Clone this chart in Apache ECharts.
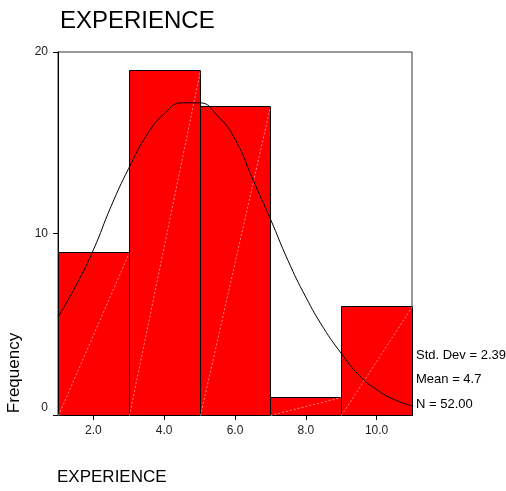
<!DOCTYPE html>
<html>
<head>
<meta charset="utf-8">
<script src="https://cdn.jsdelivr.net/npm/echarts@6/dist/echarts.min.js"></script>
<style>html,body{margin:0;padding:0;background:#fff;}#c{width:506px;height:491px;}</style>
</head>
<body>
<div id="c"></div>
<script>
// Histogram bins and counts
const binStarts = [1, 3, 5, 7, 9];
const binEnds = [3, 5, 7, 9, 11];
const counts = [9, 19, 17, 1, 6];
// Normal curve
const curveX = [1, 1.5, 2, 2.5, 3, 3.5, 4, 4.5, 5, 5.5, 6, 6.5, 7, 7.5, 8, 8.5, 9, 9.5, 10, 10.5, 11];
const curveY = [5.4, 7.1, 9.1, 11.5, 13.6, 15.4, 16.6, 17.2, 17.2, 16.5, 15.2, 13.0, 10.8, 8.5, 6.5, 4.8, 3.4, 2.2, 1.4, 0.85, 0.5];
const xTicks = [2, 4, 6, 8, 10];
const yTicks = [0, 10, 20];
const statLines = ['Std. Dev = 2.39', 'Mean = 4.7', 'N = 52.00'];
const titleText = 'EXPERIENCE';
const xName = 'EXPERIENCE';
const yName = 'Frequency';

const FONT = 'Liberation Sans, Arial, sans-serif';
const chart = echarts.init(document.getElementById('c'), null, {renderer: 'canvas'});

const histData = binStarts.map((s, i) => [s, binEnds[i], counts[i]]);
const curveData = curveX.map((x, i) => [x, curveY[i]]);

const r = v => Math.round(v) + 0.5;

chart.setOption({
  animation: false,
  backgroundColor: '#fff',
  title: {
    text: titleText, left: 55, top: 4,
    textStyle: {fontFamily: FONT, fontSize: 24, fontWeight: 'normal', color: '#000'}
  },
  grid: {left: 58, right: 94, top: 52, bottom: 76, show: true, borderColor: '#333', borderWidth: 1, backgroundColor: 'transparent'},
  xAxis: {
    type: 'value', min: 1, max: 11,
    axisLine: {show: true, onZero: false, lineStyle: {color: '#000', width: 1}},
    axisTick: {show: true, length: 5, customValues: xTicks, lineStyle: {color: '#000'}},
    axisLabel: {show: true, customValues: xTicks, formatter: v => Number(v).toFixed(1), fontFamily: FONT, fontSize: 12, color: '#222', margin: 10},
    splitLine: {show: false}
  },
  yAxis: {
    type: 'value', min: 0, max: 20, interval: 10,
    axisLine: {show: true, lineStyle: {color: '#000', width: 1}},
    axisTick: {show: true, length: 5, customValues: yTicks, lineStyle: {color: '#000'}},
    axisLabel: {
      show: true, customValues: yTicks, fontFamily: FONT, fontSize: 12, color: '#222', margin: 10,
      formatter: v => (v === 0 ? '{z|0}' : String(v)),
      rich: {z: {fontFamily: FONT, fontSize: 12, color: '#222', padding: [0, 0, 14, 0]}}
    },
    splitLine: {show: false}
  },
  graphic: [
    {type: 'text', x: 57, y: 477, style: {text: xName, font: '17px ' + FONT, fill: '#000', textVerticalAlign: 'middle'}},
    {type: 'text', x: 14, y: 373, rotation: Math.PI / 2, style: {text: yName, font: '17px ' + FONT, fill: '#000', textAlign: 'center', textVerticalAlign: 'middle'}},
    {type: 'text', x: 416, y: 355, style: {text: statLines[0], font: '13px ' + FONT, fill: '#000', textVerticalAlign: 'middle'}},
    {type: 'text', x: 416, y: 379, style: {text: statLines[1], font: '13px ' + FONT, fill: '#000', textVerticalAlign: 'middle'}},
    {type: 'text', x: 416, y: 404, style: {text: statLines[2], font: '13px ' + FONT, fill: '#000', textVerticalAlign: 'middle'}}
  ],
  series: [
    {
      type: 'custom',
      data: histData,
      encode: {x: [0, 1], y: 2},
      z: 2,
      renderItem: function (params, api) {
        const p0 = api.coord([api.value(0), 0]);
        const p1 = api.coord([api.value(1), api.value(2)]);
        const x0 = r(p0[0]), y0 = r(p0[1]), x1 = r(p1[0]), y1 = r(p1[1]);
        return {
          type: 'group',
          children: [
            {type: 'rect', shape: {x: x0, y: y1, width: x1 - x0, height: y0 - y1}, style: {fill: '#ff0000', stroke: '#000', lineWidth: 1}},
            {type: 'line', shape: {x1: x0, y1: y0, x2: x1, y2: y1}, style: {stroke: 'rgba(255,255,255,0.55)', lineWidth: 1, lineDash: [2, 2]}}
          ]
        };
      }
    },
    {
      type: 'line',
      data: curveData,
      smooth: true,
      symbol: 'none',
      z: 3,
      lineStyle: {color: '#000', width: 1}
    }
  ]
});
</script>
</body>
</html>
